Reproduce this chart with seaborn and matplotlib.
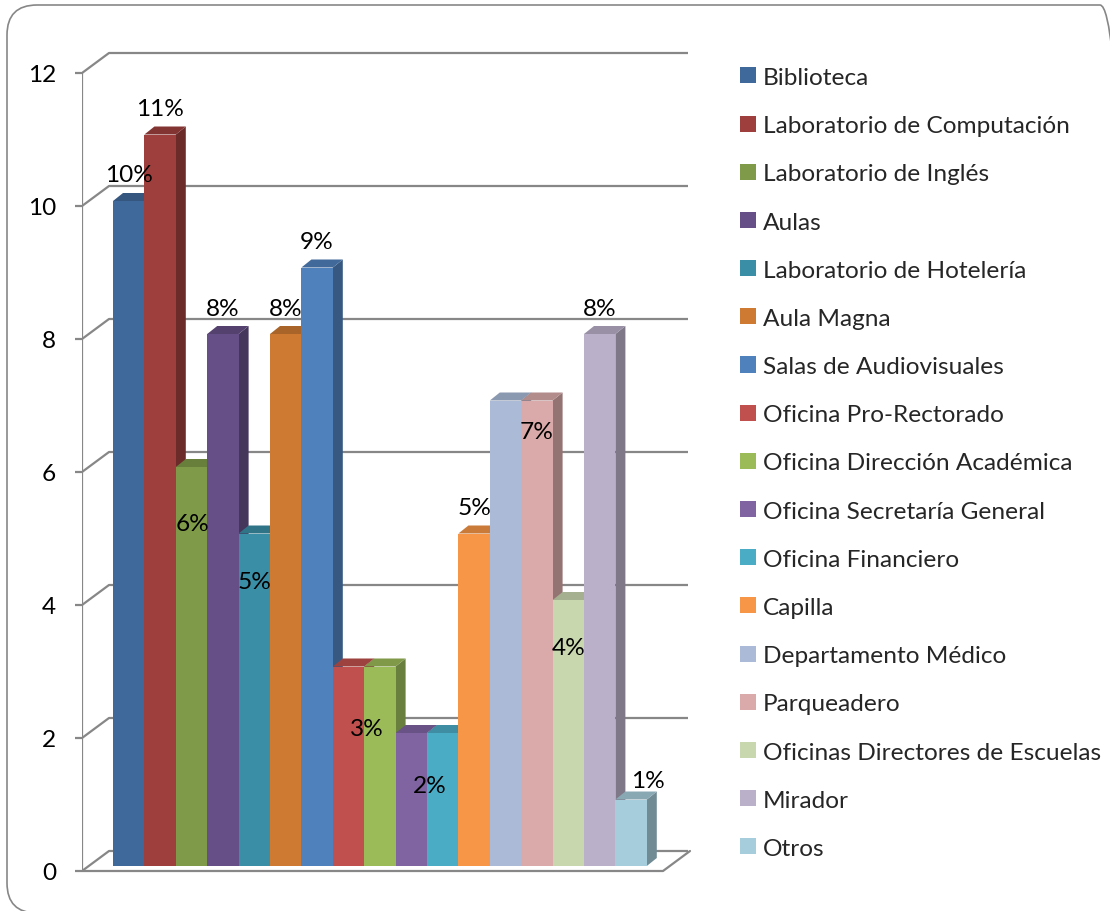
import matplotlib
matplotlib.use("Agg")
import matplotlib.pyplot as plt
import matplotlib.transforms as mtransforms
from matplotlib.patches import Polygon, Patch, FancyBboxPatch
import matplotlib.colors as mcolors
import seaborn as sns
import pandas as pd

# ---- data -------------------------------------------------------------
categories = [
    "Biblioteca",
    "Laboratorio de Computación",
    "Laboratorio de Inglés",
    "Aulas",
    "Laboratorio de Hotelería",
    "Aula Magna",
    "Salas de Audiovisuales",
    "Oficina Pro-Rectorado",
    "Oficina Dirección Académica",
    "Oficina Secretaría General",
    "Oficina Financiero",
    "Capilla",
    "Departamento Médico",
    "Parqueadero",
    "Oficinas Directores de Escuelas",
    "Mirador",
    "Otros",
]
values = [10, 11, 6, 8, 5, 8, 9, 3, 3, 2, 2, 5, 7, 7, 4, 8, 1]
y_ticks = [0, 2, 4, 6, 8, 10, 12]

# ---- styling ----------------------------------------------------------
colors = [
    "#3F699B", "#9E3F3D", "#7F9A48", "#664F86", "#3A8EA6", "#CE7A33",
    "#4F81BD", "#C0504D", "#9BBB59", "#8064A2", "#4BACC6", "#F79646",
    "#AABAD7", "#D9AAA9", "#C8D7AE", "#BAB0CA", "#A6CDDB",
]
# which bars carry a percentage label, and label offsets (px) from the bar top
label_shown = [True, True, True, True, True, True, True, False, True,
               False, True, True, False, True, True, True, True]
label_offsets_px = [(0, 26), (0, 26), (1, -57), (0, 25), (0, -48), (0, 25),
                    (0, 26), (0, 0), (-13, -62), (0, 0), (-13, -53), (0, 26),
                    (0, 0), (0, -31), (0, -48), (0, 25), (17, 19)]

FONT = 17.6
GRID = "#878787"
DPI = 100
W_PX, H_PX = 1110, 912

sns.set_theme(style="white")
plt.rcParams["font.family"] = ["Lato", "DejaVu Sans"]

fig = plt.figure(figsize=(W_PX / DPI, H_PX / DPI), dpi=DPI)

# plot box geometry (pixels)
AX_L, AX_R, AX_T, AX_B = 82, 692, 50, 880
CAT0_PX = 106          # left edge of first category on the front plane
ZERO_PX = 872          # y of value 0 on the front plane
PX_X = 31.4            # pixels per category
PX_Y = 66.5            # pixels per unit

ax = fig.add_axes([AX_L / W_PX, (H_PX - AX_B) / H_PX,
                   (AX_R - AX_L) / W_PX, (AX_B - AX_T) / H_PX])

df = pd.DataFrame({"area": categories, "count": values})
sns.barplot(data=df, x="area", y="count", hue="area", order=categories,
            hue_order=categories, palette=colors, width=1.0, saturation=1,
            dodge=False, legend=False, linewidth=0, ax=ax)

x_left = -0.5 - (CAT0_PX - AX_L) / PX_X
x_right = -0.5 + (AX_R - CAT0_PX) / PX_X
ax.set_xlim(x_left, x_right)
ax.set_ylim(-(AX_B - ZERO_PX) / PX_Y, (ZERO_PX - AX_T) / PX_Y)

# depth of the back wall and of the bars
WALL_DX, WALL_DY = 27 / PX_X, 20 / PX_Y
BAR_DX, BAR_DY = 10 / PX_X, 8 / PX_Y
bar_shift = ax.transData + mtransforms.ScaledTranslation(
    7 / DPI, 5 / DPI, fig.dpi_scale_trans)


def shade(c, f):
    r, g, b = mcolors.to_rgb(c)
    return (r * f, g * f, b * f)


# back wall grid lines and left wall diagonals
wall_right = -0.5 + (688 - CAT0_PX) / PX_X
for t in y_ticks:
    ax.plot([x_left, x_left + WALL_DX, wall_right],
            [t, t + WALL_DY, t + WALL_DY],
            color=GRID, lw=1.6, zorder=1, solid_capstyle="butt")
# front vertical axis line
ax.plot([x_left, x_left], [0, y_ticks[-1]], color=GRID, lw=1.6, zorder=1)
# floor front edge
floor_right = -0.5 + (663 - CAT0_PX) / PX_X
ax.plot([x_left, floor_right, floor_right + WALL_DX],
        [0, 0, WALL_DY], color=GRID, lw=1.6, zorder=1)

# 3-D bars: front faces from seaborn, side and top faces added
bars = sorted(ax.patches, key=lambda p: p.get_x())
total = sum(values)
for i, p in enumerate(bars):
    x, w, h = p.get_x(), p.get_width(), p.get_height()
    c = colors[i]
    p.set_transform(bar_shift)
    p.set_zorder(3)
    side = Polygon([(x + w, 0), (x + w + BAR_DX, BAR_DY),
                    (x + w + BAR_DX, h + BAR_DY), (x + w, h)],
                   closed=True, facecolor=shade(c, 0.68), edgecolor="none",
                   transform=bar_shift, zorder=2)
    top = Polygon([(x, h), (x + w, h), (x + w + BAR_DX, h + BAR_DY),
                   (x + BAR_DX, h + BAR_DY)],
                  closed=True, facecolor=shade(c, 0.82), edgecolor="none",
                  transform=bar_shift, zorder=2.5)
    ax.add_patch(side)
    ax.add_patch(top)
    if label_shown[i]:
        dx, dy = label_offsets_px[i]
        tr = ax.transData + mtransforms.ScaledTranslation(
            (7 + dx) / DPI, (5 + dy) / DPI, fig.dpi_scale_trans)
        ax.text(x + w / 2, h, f"{round(values[i] / total * 100)}%",
                transform=tr, ha="center", va="center", fontsize=FONT,
                color="black", zorder=6)

# axes decoration
for s in ax.spines.values():
    s.set_visible(False)
ax.set_xticks([])
ax.set_xlabel("")
ax.set_ylabel("")
ax.set_yticks(y_ticks)
ax.set_yticklabels([str(t) for t in y_ticks])
ax.tick_params(axis="y", length=7 * 72 / DPI, width=1.6, color=GRID,
               pad=19 * 72 / DPI, labelsize=FONT, labelcolor="black", left=True)
ax.patch.set_alpha(0)

# legend
handles = [Patch(facecolor=c, edgecolor="none") for c in colors]
fig.legend(handles, categories, loc="upper left",
           bbox_to_anchor=(740 / W_PX, 1 - 68 / H_PX), frameon=False,
           borderpad=0, borderaxespad=0, handlelength=0.64, handleheight=0.64,
           handletextpad=0.3, labelspacing=1.112, fontsize=FONT)

# rounded outer border (runs past the right and bottom edges)
border = FancyBboxPatch((7 / DPI, -2 / DPI), (1130 - 7) / DPI, (914 - 6) / DPI,
                        boxstyle="round,pad=0,rounding_size=0.3",
                        transform=fig.dpi_scale_trans, fill=False,
                        edgecolor=GRID, lw=1.2)
fig.patches.append(border)

fig.savefig("out.png", dpi=DPI)
